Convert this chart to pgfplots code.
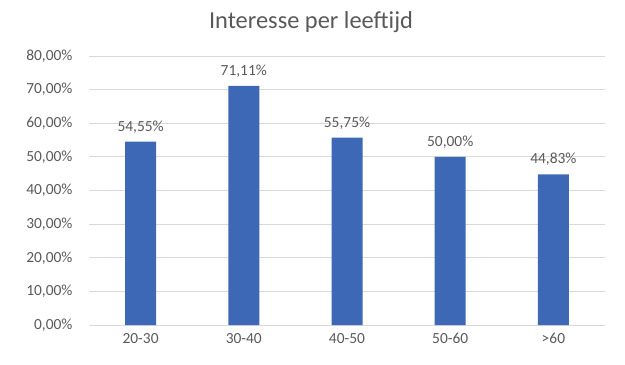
\documentclass[border=0pt]{standalone}
\usepackage{pgfplots}
\pgfplotsset{compat=1.18}
\usepackage{fontspec}
\setmainfont{Carlito}
\definecolor{txt}{HTML}{595959}
\definecolor{barblue}{HTML}{3C68B6}
\definecolor{grid}{HTML}{D9D9D9}
\begin{document}
\begin{tikzpicture}[x=1bp,y=1bp]
\path[use as bounding box] (0,0) rectangle (625,364);
\node[text=txt,font=\fontsize{24.5}{29}\selectfont] at (311,342) {Interesse per leeftijd};
\begin{axis}[
  at={(89bp,39bp)}, anchor=south west,
  scale only axis, width=516bp, height=269bp,
  ymin=0, ymax=80, ytick={0,10,...,80},
  xmin=-0.5, xmax=4.5,
  xtick={0,1,2,3,4}, xticklabels={20-30,30-40,40-50,50-60,>60},
  axis x line*=bottom,
  axis y line*=left,
  x axis line style={draw=grid, line width=0.8bp, -},
  y axis line style={draw=none},
  ymajorgrids, grid style={draw=grid, line width=0.8bp},
  major tick length=0pt,
  tick style={draw=none},
  ticklabel style={text=txt, font=\fontsize{15.5}{18}\selectfont},
  yticklabel={\pgfmathprintnumber[fixed,fixed zerofill,precision=2,use comma]{\tick}\%},
  /pgf/number format/assume math mode=true,
  yticklabel style={xshift=-13bp},
  xticklabel style={yshift=-5bp},
  ybar, bar width=31bp,
  nodes near coords={\pgfmathprintnumber[fixed,fixed zerofill,precision=2,use comma]{\pgfplotspointmeta}\%},
  nodes near coords style={text=txt, font=\fontsize{15.5}{18}\selectfont, yshift=5bp},
  clip=false,
]
\addplot[fill=barblue, draw=none] coordinates {(0,54.55) (1,71.11) (2,55.75) (3,50.00) (4,44.83)};
\end{axis}
\end{tikzpicture}
\end{document}
